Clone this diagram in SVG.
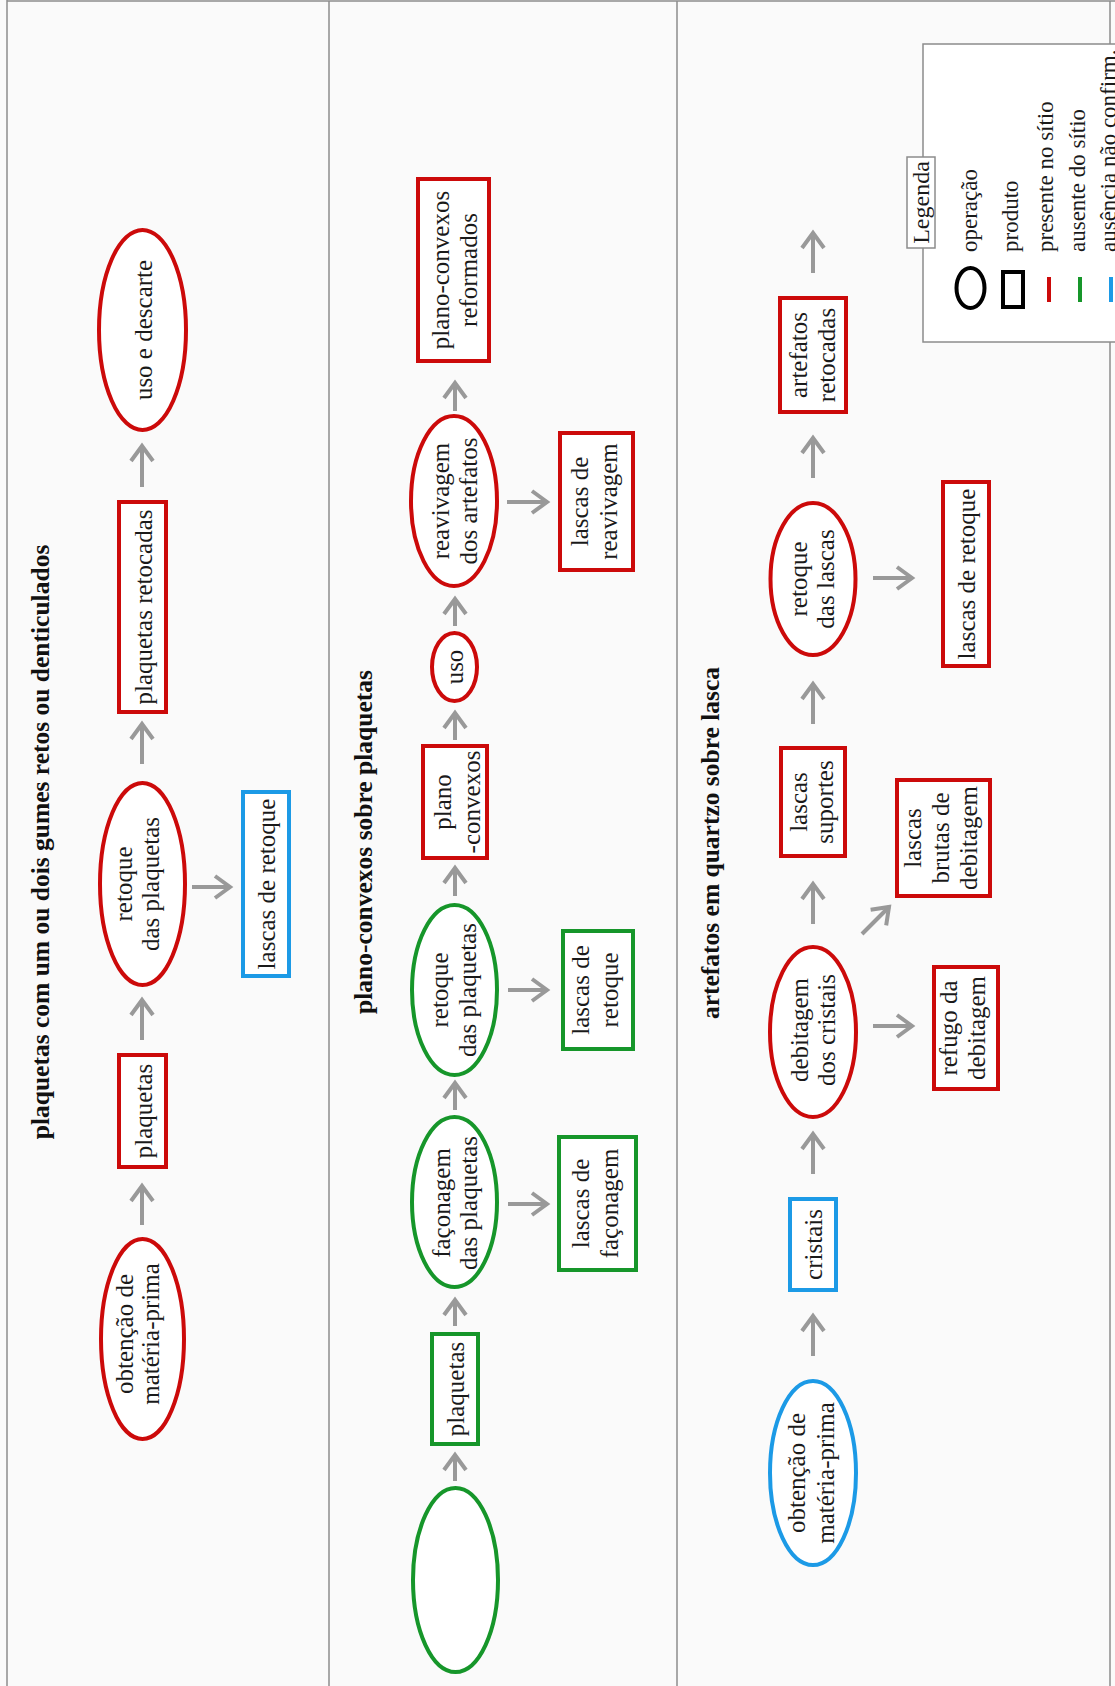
<svg xmlns="http://www.w3.org/2000/svg" width="1115" height="1686" viewBox="0 0 1115 1686">
<style>
.t{font-family:"Liberation Serif",serif;font-size:25px;fill:#1a1a1a;text-anchor:middle}
.h{font-family:"Liberation Serif",serif;font-size:25.5px;font-weight:bold;fill:#111;text-anchor:middle}
.lg{font-family:"Liberation Serif",serif;font-size:23px;fill:#1a1a1a;text-anchor:start}
.r{fill:#fff;stroke:#cc0a0a;stroke-width:4}
.g{fill:#fff;stroke:#16962a;stroke-width:4}
.b{fill:#fff;stroke:#1c9ae6;stroke-width:4}
.frame{stroke:#8c8c8c;stroke-width:1.5;fill:none}
.c line{stroke:#999;stroke-width:4;marker-end:url(#ah)}
</style>
<defs>
<marker id="ah" markerUnits="userSpaceOnUse" markerWidth="40" markerHeight="40" viewBox="-20 -20 40 40" refX="0" refY="0" orient="auto" overflow="visible">
<path d="M-15,-11 L0,0 L-15,11" fill="none" stroke="#999" stroke-width="4"/>
</marker>
</defs>
<rect x="0" y="0" width="1115" height="1686" fill="#fafafa"/>
<g id="frame">
<line class="frame" x1="7" y1="0" x2="7" y2="1686"/>
<line class="frame" x1="7" y1="1" x2="1115" y2="1"/>
<line class="frame" x1="329" y1="1" x2="329" y2="1686"/>
<line class="frame" x1="677" y1="1" x2="677" y2="1686"/>
<line class="frame" x1="1110" y1="1" x2="1110" y2="1686"/>
</g>
<g id="titles">
<text class="h" transform="translate(49,842) rotate(-90)">plaquetas com um ou dois gumes retos ou denticulados</text>
<text class="h" transform="translate(372,842) rotate(-90)">plano-convexos sobre plaquetas</text>
<text class="h" transform="translate(719,843) rotate(-90)">artefatos em quartzo sobre lasca</text>
</g>
<g class="c" id="connectors">
<line x1="142" y1="1225" x2="142" y2="1186"/>
<line x1="142" y1="1040" x2="142" y2="1000"/>
<line x1="192" y1="887" x2="230" y2="887"/>
<line x1="142" y1="764" x2="142" y2="724"/>
<line x1="142" y1="487" x2="142" y2="446"/>
<line x1="455" y1="1481" x2="455" y2="1455"/>
<line x1="455" y1="1326" x2="455" y2="1300"/>
<line x1="508" y1="1204" x2="547" y2="1204"/>
<line x1="455" y1="1110" x2="455" y2="1083"/>
<line x1="508" y1="990" x2="547" y2="990"/>
<line x1="455" y1="896" x2="455" y2="868"/>
<line x1="455" y1="740" x2="455" y2="713"/>
<line x1="455" y1="626" x2="455" y2="599"/>
<line x1="507" y1="502" x2="547" y2="502"/>
<line x1="455" y1="411" x2="455" y2="383"/>
<line x1="813" y1="1356" x2="813" y2="1316"/>
<line x1="813" y1="1174" x2="813" y2="1134"/>
<line x1="873" y1="1026" x2="912" y2="1026"/>
<line x1="862" y1="934" x2="889" y2="907"/>
<line x1="813" y1="924" x2="813" y2="884"/>
<line x1="813" y1="724" x2="813" y2="684"/>
<line x1="873" y1="578" x2="912" y2="578"/>
<line x1="813" y1="478" x2="813" y2="438"/>
<line x1="813" y1="273" x2="813" y2="233"/>
</g>
<g id="n1"><ellipse class="r" cx="142.5" cy="1339" rx="41.5" ry="100"/><text class="t" transform="translate(142.5,1334) rotate(-90)"><tspan x="0" y="-10">obtenção de</tspan><tspan x="0" y="16">matéria-prima</tspan></text></g>
<g id="n2"><rect class="r" x="119" y="1055" width="47" height="112"/><text class="t" transform="translate(142.5,1111) rotate(-90)" y="9">plaquetas</text></g>
<g id="n3"><ellipse class="r" cx="142.5" cy="884" rx="42.5" ry="101"/><text class="t" transform="translate(142.5,884) rotate(-90)"><tspan x="0" y="-11">retoque</tspan><tspan x="0" y="16">das plaquetas</tspan></text></g>
<g id="n4"><rect class="b" x="243" y="792" width="46" height="184"/><text class="t" transform="translate(266,884) rotate(-90)" y="9">lascas de retoque</text></g>
<g id="n5"><rect class="r" x="119" y="502" width="47" height="210"/><text class="t" transform="translate(142.5,607) rotate(-90)" y="9.5">plaquetas retocadas</text></g>
<g id="n6"><ellipse class="r" cx="142.5" cy="330" rx="43.5" ry="100"/><text class="t" transform="translate(142.5,330) rotate(-90)" y="9.5">uso e descarte</text></g>
<g id="n7"><ellipse class="g" cx="455.5" cy="1580" rx="42.5" ry="92"/></g>
<g id="n8"><rect class="g" x="432" y="1334" width="46" height="110"/><text class="t" transform="translate(455,1389) rotate(-90)" y="9">plaquetas</text></g>
<g id="n9"><ellipse class="g" cx="454.5" cy="1202" rx="42.5" ry="85"/><text class="t" transform="translate(454.5,1203) rotate(-90)"><tspan x="0" y="-5">façonagem</tspan><tspan x="0" y="22">das plaquetas</tspan></text></g>
<g id="n10"><rect class="g" x="559" y="1137" width="77" height="133"/><text class="t" transform="translate(597.5,1203.5) rotate(-90)"><tspan x="0" y="-9">lascas de</tspan><tspan x="0" y="20">façonagem</tspan></text></g>
<g id="n11"><ellipse class="g" cx="454.5" cy="990" rx="42.5" ry="85"/><text class="t" transform="translate(454.5,990) rotate(-90)"><tspan x="0" y="-7">retoque</tspan><tspan x="0" y="21">das plaquetas</tspan></text></g>
<g id="n12"><rect class="g" x="563" y="931" width="70" height="118"/><text class="t" transform="translate(598,990) rotate(-90)"><tspan x="0" y="-9">lascas de</tspan><tspan x="0" y="20">retoque</tspan></text></g>
<g id="n13"><rect class="r" x="423" y="746" width="64" height="112"/><text class="t" transform="translate(455,802) rotate(-90)"><tspan x="0" y="-4">plano</tspan><tspan x="0" y="25">-convexos</tspan></text></g>
<g id="n14"><ellipse class="r" cx="454.5" cy="667" rx="22.5" ry="34"/><text class="t" transform="translate(454.5,667) rotate(-90)" y="8">uso</text></g>
<g id="n15"><ellipse class="r" cx="454" cy="501" rx="43" ry="85"/><text class="t" transform="translate(454,501) rotate(-90)"><tspan x="0" y="-5">reavivagem</tspan><tspan x="0" y="23">dos artefatos</tspan></text></g>
<g id="n16"><rect class="r" x="560" y="433" width="73" height="137"/><text class="t" transform="translate(596.5,501.5) rotate(-90)"><tspan x="0" y="-9">lascas de</tspan><tspan x="0" y="20">reavivagem</tspan></text></g>
<g id="n17"><rect class="r" x="418" y="179" width="71" height="182"/><text class="t" transform="translate(453.5,270) rotate(-90)"><tspan x="0" y="-5">plano-convexos</tspan><tspan x="0" y="23">reformados</tspan></text></g>
<g id="n18"><ellipse class="b" cx="813" cy="1473" rx="43" ry="92"/><text class="t" transform="translate(813,1473) rotate(-90)"><tspan x="0" y="-8">obtenção de</tspan><tspan x="0" y="21">matéria-prima</tspan></text></g>
<g id="n19"><rect class="b" x="790" y="1199" width="46" height="91"/><text class="t" transform="translate(813,1244.5) rotate(-90)" y="9">cristais</text></g>
<g id="n20"><ellipse class="r" cx="813" cy="1032" rx="43" ry="85"/><text class="t" transform="translate(813,1030) rotate(-90)"><tspan x="0" y="-5">debitagem</tspan><tspan x="0" y="22">dos cristais</tspan></text></g>
<g id="n21"><rect class="r" x="934" y="967" width="64" height="122"/><text class="t" transform="translate(966,1028) rotate(-90)"><tspan x="0" y="-9">refugo da</tspan><tspan x="0" y="19">debitagem</tspan></text></g>
<g id="n22"><rect class="r" x="897" y="780" width="93" height="116"/><text class="t" transform="translate(943.5,838) rotate(-90)"><tspan x="0" y="-23">lascas</tspan><tspan x="0" y="5">brutas de</tspan><tspan x="0" y="33">debitagem</tspan></text></g>
<g id="n23"><rect class="r" x="781" y="748" width="64" height="108"/><text class="t" transform="translate(813,802) rotate(-90)"><tspan x="0" y="-6">lascas</tspan><tspan x="0" y="20">suportes</tspan></text></g>
<g id="n24"><ellipse class="r" cx="813" cy="579" rx="42.5" ry="76"/><text class="t" transform="translate(813,579) rotate(-90)"><tspan x="0" y="-6">retoque</tspan><tspan x="0" y="21">das lascas</tspan></text></g>
<g id="n25"><rect class="r" x="943" y="482" width="46" height="184"/><text class="t" transform="translate(966,574) rotate(-90)" y="9">lascas de retoque</text></g>
<g id="n26"><rect class="r" x="780" y="298" width="66" height="114"/><text class="t" transform="translate(813,355) rotate(-90)"><tspan x="0" y="-6">artefatos</tspan><tspan x="0" y="22">retocadas</tspan></text></g>
<g id="legend">
<rect x="923" y="44" width="200" height="298" fill="#fff" stroke="#8c8c8c" stroke-width="1.5"/>
<rect x="907" y="157" width="28" height="91" fill="#fff" stroke="#8c8c8c" stroke-width="1.5"/>
<text class="t" transform="translate(921,202.5) rotate(-90)" y="8" style="font-size:24px">Legenda</text>
<ellipse cx="970.5" cy="288" rx="14" ry="20" fill="none" stroke="#000" stroke-width="4"/>
<rect x="1003" y="272" width="20" height="35" fill="none" stroke="#000" stroke-width="4"/>
<line x1="1049" y1="277" x2="1049" y2="302" stroke="#cc0a0a" stroke-width="4"/>
<line x1="1080" y1="277" x2="1080" y2="302" stroke="#16962a" stroke-width="4"/>
<line x1="1111" y1="277" x2="1111" y2="302" stroke="#1c9ae6" stroke-width="4"/>
<text class="lg" transform="translate(977,252) rotate(-90)">operação</text>
<text class="lg" transform="translate(1018,252) rotate(-90)">produto</text>
<text class="lg" transform="translate(1053,252) rotate(-90)">presente no sítio</text>
<text class="lg" transform="translate(1085,252) rotate(-90)">ausente do sítio</text>
<text class="lg" transform="translate(1116,252) rotate(-90)">ausência não confirm.</text>
</g>
</svg>
